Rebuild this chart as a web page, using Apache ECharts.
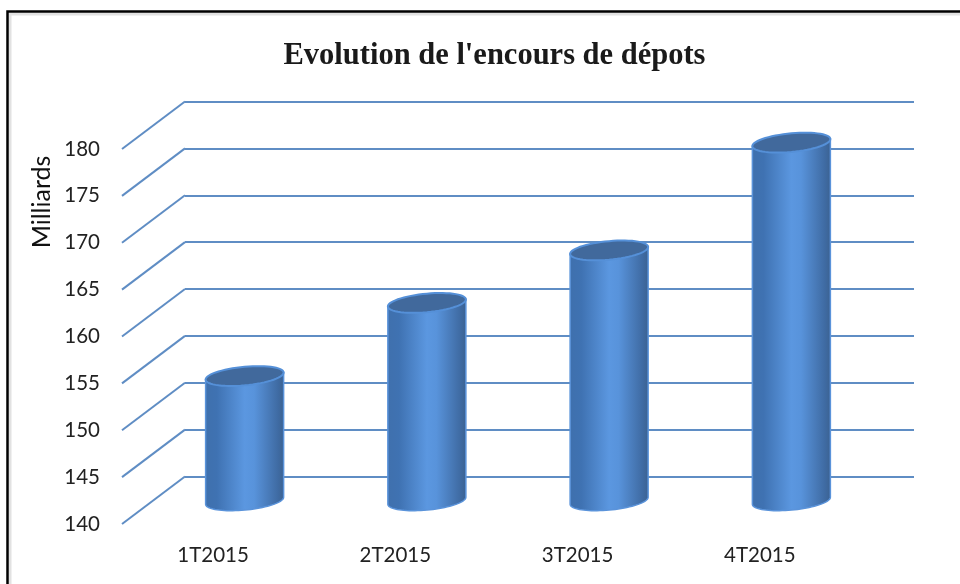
<!DOCTYPE html>
<html><head><meta charset="utf-8">
<style>html,body{margin:0;padding:0;background:#fff}#c{width:960px;height:584px}</style>
<script src="https://cdn.jsdelivr.net/npm/echarts@6/dist/echarts.min.js"></script>
</head><body><div id="c"></div>
<script>
var categories = ['1T2015','2T2015','3T2015','4T2015'];
var depots = [153.3, 161.1, 166.7, 178.2];
var yTicks = [140,145,150,155,160,165,170,175,180];
var chartTitle = "Evolution de l'encours de dépots";
var yName = 'Milliards';

var DX = 63, DY = -47.5;
var chart = echarts.init(document.getElementById('c'));

function ell(cx, cy, a, sk, b, t0, t1, n) {
  var pts = [];
  for (var i = 0; i <= n; i++) {
    var t = t0 + (t1 - t0) * i / n;
    pts.push([cx + a * Math.cos(t), cy - sk * Math.cos(t) + b * Math.sin(t)]);
  }
  return pts;
}

chart.setOption({
  animation: false,
  backgroundColor: '#fff',
  title: { text: chartTitle, left: 489.5, top: 36, textAlign: 'center',
    textStyle: { fontFamily: 'Liberation Serif', fontWeight: 'bold', fontSize: 30.5, color: '#1a1a1a' } },
  graphic: [
    { type: 'rect', z: -2, shape: { x: 10, y: 14, width: 970, height: 600 }, style: { fill: '#fff', stroke: '#e2e2e2', lineWidth: 3 } },
    { type: 'rect', z: -1, shape: { x: 7.5, y: 11.5, width: 970, height: 600 }, style: { fill: 'none', stroke: '#000', lineWidth: 2.5 } },
    { type: 'text', z: 5, x: 42, y: 202, rotation: Math.PI / 2, style: { text: yName, align: 'center', verticalAlign: 'middle', fontFamily: 'Lato', fontSize: 25, fill: '#111' } }
  ],
  grid: [
    { left: 122, top: 149, width: 729, height: 375 },
    { left: 185, top: 101.5, width: 729, height: 375 }
  ],
  xAxis: [
    { type: 'category', gridIndex: 0, data: categories, axisLine: { show: false }, axisTick: { show: false },
      axisLabel: { margin: 21, fontFamily: 'Lato', fontSize: 20.5, color: '#222' } },
    { type: 'category', gridIndex: 1, data: categories, show: false }
  ],
  yAxis: [
    { type: 'value', gridIndex: 0, min: 140, max: 180, interval: 5, axisLine: { show: false }, axisTick: { show: false },
      splitLine: { show: false }, axisLabel: { margin: 22, fontFamily: 'Lato', fontSize: 20.5, color: '#222', padding: [4, 0, 0, 0] } },
    { type: 'value', gridIndex: 1, min: 140, max: 180, interval: 5, axisLine: { show: false }, axisTick: { show: false },
      axisLabel: { show: false }, splitLine: { show: true, lineStyle: { color: '#5f8dc4', width: 2 } } }
  ],
  series: [
    { type: 'custom', name: 'floor', xAxisIndex: 0, yAxisIndex: 0, z: 2, silent: true, clip: false,
      data: yTicks.map(function (v) { return [0, v]; }),
      renderItem: function (params, api) {
        var p = api.coord([0, api.value(1)]);
        var x0 = params.coordSys.x;
        return { type: 'line', shape: { x1: x0, y1: p[1], x2: x0 + DX, y2: p[1] + DY },
          style: { stroke: '#5f8dc4', lineWidth: 2 } };
      } },
    { type: 'custom', name: 'Depots', xAxisIndex: 0, yAxisIndex: 0, z: 3, silent: true, clip: false,
      data: depots.map(function (v, i) { return [i, v]; }),
      renderItem: function (params, api) {
        var top = api.coord([api.value(0), api.value(1)]);
        var base = api.coord([api.value(0), 140]);
        var a = api.size([1, 0])[0] * 0.214;
        var sk = 3.5, b = 9.3;
        var cx = top[0] + DX / 2, off = DY / 2 + 0.5;
        var cyT = top[1] + off, cyB = base[1] + off;
        var body = [[cx - a, cyT + sk], [cx + a, cyT - sk]]
          .concat(ell(cx, cyB, a, sk, b, 0, Math.PI, 40));
        return { type: 'group', children: [
          { type: 'polygon', shape: { points: body }, style: {
              fill: { type: 'linear', x: 0, y: 0, x2: 1, y2: 0, colorStops: [
                { offset: 0, color: '#3f70ad' }, { offset: 0.15, color: '#3f72b2' },
                { offset: 0.5, color: '#5b97e0' }, { offset: 0.62, color: '#5893db' },
                { offset: 0.92, color: '#3f6ba3' }, { offset: 1, color: '#3b6190' } ] },
              stroke: '#5a93da', lineWidth: 1.5 } },
          { type: 'polygon', shape: { points: ell(cx, cyT, a, sk, b, 0, Math.PI * 2, 60) },
            style: { fill: '#41699c', stroke: '#5590d8', lineWidth: 2 } }
        ] };
      } }
  ]
});
</script></body></html>
